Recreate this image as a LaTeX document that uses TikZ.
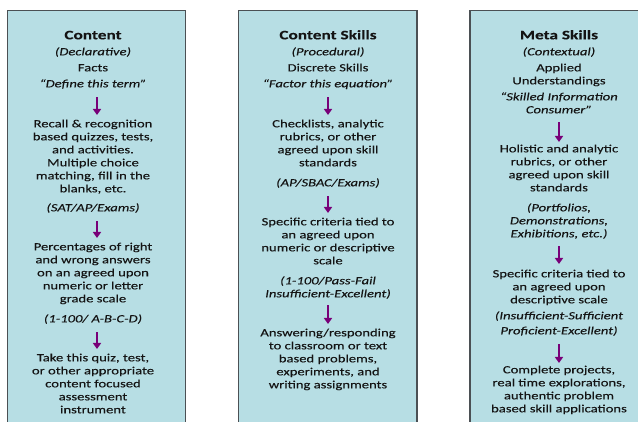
\documentclass[tikz,border=0pt]{standalone}
\usepackage{fontspec}
\setmainfont{Carlito}[FakeStretch=1.33,FakeBold=0.12]
\usetikzlibrary{arrows.meta}
\definecolor{boxfill}{RGB}{183,222,228}
\definecolor{boxline}{RGB}{75,80,84}
\definecolor{arrowpurple}{RGB}{120,0,120}
\definecolor{txt}{RGB}{20,20,20}
\tikzset{
  colbox/.style={draw=boxline, line width=1.3pt, fill=boxfill},
  txtblock/.style={anchor=north, align=center, inner sep=0pt, text=txt,
    font=\fontsize{11}{13}\selectfont},
  downarrow/.style={draw=arrowpurple, line width=2.4pt,
    -{Triangle[width=8pt,length=6pt]}}
}
\newcommand{\coltitle}[1]{{\fontsize{13}{13}\selectfont\bfseries #1}}
\begin{document}
\begin{tikzpicture}[x=1pt,y=-1pt]
\useasboundingbox (0,0) rectangle (638,422);
\clip (0,0) rectangle (638,422);
% column boxes
\draw[colbox] (7.5,10.5) rectangle (185.5,440);
\draw[colbox] (238.5,10.5) rectangle (417,440);
\draw[colbox] (470,10.5) rectangle (648,440);

% left column
\node[txtblock] (L1) at (93,30) {\coltitle{Content}\strut\\[3pt]
  \textit{(Declarative)}\\[3pt]Facts\\[3pt]\textit{“Define this term”}\strut};
\node[txtblock] (L2) at (93,118) {\strut Recall \& recognition\\based quizzes, tests,\\
  and activities.\\Multiple choice\\matching, fill in the\\blanks, etc.\\[6pt]
  \textit{(SAT/AP/Exams)}\strut};
\node[txtblock] (L4) at (93,241) {\strut Percentages of right\\and wrong answers\\
  on an agreed upon\\numeric or letter\\grade scale\\[7pt]
  \textit{(1-100/ A-B-C-D)}\strut};
\node[txtblock] (L6) at (93,352) {\strut Take this quiz, test,\\or other appropriate\\
  content focused\\assessment\\instrument\strut};

% middle column
\node[txtblock] (M1) at (328,30) {\coltitle{Content Skills}\strut\\[3pt]
  \textit{(Procedural)}\\[3pt]Discrete Skills\\[3pt]\textit{“Factor this equation”}\strut};
\node[txtblock] (M2) at (328,118) {\strut Checklists, analytic\\rubrics, or other\\
  agreed upon skill\\standards\\[7pt]\textit{(AP/SBAC/Exams)}\strut};
\node[txtblock] (M4) at (328,216) {\strut Specific criteria tied to\\an agreed upon\\
  numeric or descriptive\\scale\\[7pt]\textit{(1-100/Pass-Fail}\\
  \textit{Insufficient-Excellent)}\strut};
\node[txtblock] (M6) at (328,327) {\strut Answering/responding\\to classroom or text\\
  based problems,\\experiments, and\\writing assignments\strut};

% right column
\node[txtblock] (R1) at (559,30) {\coltitle{Meta Skills}\strut\\[3pt]
  \textit{(Contextual)}\\[3pt]Applied\\Understandings\\[3pt]
  \textit{“Skilled Information}\\\textit{Consumer”}\strut};
\node[txtblock] (R2) at (559,143) {\strut Holistic and analytic\\rubrics, or other\\
  agreed upon skill\\standards\\[7pt]\textit{(Portfolios,}\\
  \textit{Demonstrations,}\\\textit{Exhibitions, etc.)}\strut};
\node[txtblock] (R4) at (559,268) {\strut Specific criteria tied to\\an agreed upon\\
  descriptive scale\\[3pt]\textit{(Insufficient-Sufficient}\\[2pt]
  \textit{Proficient-Excellent)}\strut};
\node[txtblock] (R6) at (559,364) {\strut Complete projects,\\real time explorations,\\
  authentic problem\\based skill applications\strut};

% arrows
\draw[downarrow, shorten <=6pt, shorten >=3pt] ([xshift=4pt]L1.south) -- ([xshift=4pt]L2.north);
\draw[downarrow, shorten <=6pt, shorten >=3pt] ([xshift=4pt]L2.south) -- ([xshift=4pt]L4.north);
\draw[downarrow, shorten <=6pt, shorten >=3pt] ([xshift=4pt]L4.south) -- ([xshift=4pt]L6.north);
\draw[downarrow, shorten <=6pt, shorten >=3pt] (M1.south) -- (M2.north);
\draw[downarrow, shorten <=6pt, shorten >=3pt] (M2.south) -- (M4.north);
\draw[downarrow, shorten <=4pt, shorten >=3pt] (M4.south) -- (M6.north);
\draw[downarrow, shorten <=5pt, shorten >=1pt] (R1.south) -- (R2.north);
\draw[downarrow, shorten <=5pt, shorten >=4pt] (R2.south) -- (R4.north);
\draw[downarrow, shorten <=6pt, shorten >=1pt] (R4.south) -- (R6.north);
\end{tikzpicture}
\end{document}
